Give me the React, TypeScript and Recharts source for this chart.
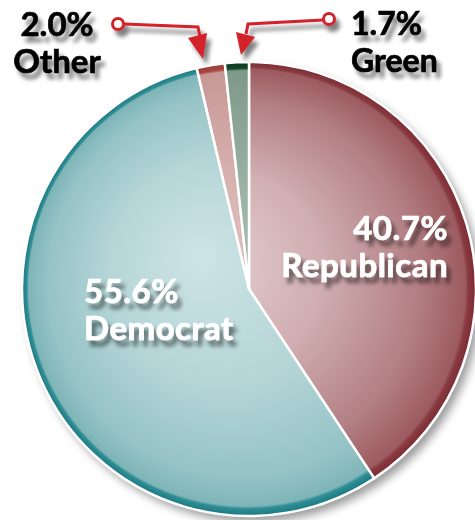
import React from 'react';
import { PieChart, Pie, Cell, Customized } from 'recharts';

// ---- data ----
const parties = ['Republican', 'Democrat', 'Other', 'Green'];
const shares = [40.7, 55.6, 2.0, 1.7];
const shadowData = [{ name: 'shadow', value: 1 }];

const data = parties.map((name, i) => ({ name, value: shares[i] }));

// ---- styling ----
const CX = 249;
const CY = 289;
const R = 227;
const FONT = 'Lato, "Open Sans", "DejaVu Sans", sans-serif';

const gradients: { id: string; stops: [number, string][] }[] = [
  {
    id: 'gRep',
    stops: [
      [0, '#e6d2d4'],
      [0.45, '#d0aeb1'],
      [0.8, '#b27e82'],
      [0.962, '#9c5b60'],
      [0.972, '#8a3b41'],
      [1, '#7a2a31'],
    ],
  },
  {
    id: 'gDem',
    stops: [
      [0, '#cde4e5'],
      [0.5, '#b5d5d7'],
      [0.85, '#95c3c6'],
      [0.962, '#7fb5b8'],
      [0.972, '#2f8f95'],
      [1, '#1a7880'],
    ],
  },
  {
    id: 'gOth',
    stops: [
      [0, '#e2c3c2'],
      [0.955, '#c79896'],
      [0.968, '#a8463f'],
      [1, '#9a3a36'],
    ],
  },
  {
    id: 'gGrn',
    stops: [
      [0, '#acc0b4'],
      [0.955, '#7e9989'],
      [0.968, '#114628'],
      [1, '#0b3a20'],
    ],
  },
];

const Defs = () => (
  <defs>
    {gradients.map((g) => (
      <radialGradient
        key={g.id}
        id={g.id}
        gradientUnits="userSpaceOnUse"
        cx={CX}
        cy={CY}
        r={R}
        fx={195}
        fy={255}
      >
        {g.stops.map(([o, c], i) => (
          <stop key={i} offset={o} stopColor={c} />
        ))}
      </radialGradient>
    ))}
    <filter id="pieShadow" x="-20%" y="-20%" width="140%" height="140%">
      <feGaussianBlur stdDeviation="5" />
    </filter>
  </defs>
);

const RED = '#d3202c';

const Label = ({
  x,
  y1,
  y2,
  anchor,
  line1,
  line2,
  color,
  size,
  spacing = 0,
}: {
  x: number;
  y1: number;
  y2: number;
  anchor: 'start' | 'middle' | 'end';
  line1: string;
  line2: string;
  color: string;
  size: number;
  spacing?: number;
}) => (
  <text
    x={x}
    y={y1}
    textAnchor={anchor}
    fill={color}
    stroke={color}
    strokeWidth={0.7}
    fontFamily={FONT}
    fontWeight={700}
    fontSize={size}
    letterSpacing={spacing}
  >
    <tspan x={x} y={y1}>{line1}</tspan>
    <tspan x={x} y={y2}>{line2}</tspan>
  </text>
);

const Annotations = () => {
  const fmt = (v: number) => `${v.toFixed(1)}%`;
  return (
    <svg
      width={475}
      height={520}
      style={{ position: 'absolute', left: 0, top: 0, pointerEvents: 'none' }}
    >
      <defs>
        <filter id="tshadow" x="-20%" y="-40%" width="150%" height="200%">
          <feGaussianBlur in="SourceAlpha" stdDeviation="2.2" result="b" />
          <feOffset in="b" dx="4" dy="6" result="o" />
          <feComponentTransfer in="o" result="s">
            <feFuncA type="linear" slope="0.5" />
          </feComponentTransfer>
          <feMerge>
            <feMergeNode in="s" />
            <feMergeNode in="SourceGraphic" />
          </feMerge>
        </filter>
      </defs>
      <g filter="url(#tshadow)">
        <Label x={448} y1={240} y2={277} anchor="end" line1={fmt(shares[0])} line2={parties[0]} color="#ffffff" size={33} spacing={0.5} />
        <Label x={84} y1={303} y2={340} anchor="start" line1={fmt(shares[1])} line2={parties[1]} color="#ffffff" size={33} spacing={0.5} />
        <Label x={57} y1={36} y2={73} anchor="middle" line1={fmt(shares[2])} line2={parties[2]} color="#000000" size={33} />
        <Label x={351} y1={35} y2={72} anchor="start" line1={fmt(shares[3])} line2={parties[3]} color="#000000" size={32} />
      </g>
      <g filter="url(#tshadow)">
        {/* Other arrow */}
        <polyline points="124,24 198,27 200,37" fill="none" stroke={RED} strokeWidth={3} />
        <polygon points="188,38 207,33 203,59" fill={RED} />
        <circle cx={118} cy={24} r={5.5} fill="#fff" stroke={RED} strokeWidth={3} />
        {/* Green arrow */}
        <polyline points="323,20 248,24 246,34" fill="none" stroke={RED} strokeWidth={3} />
        <polygon points="236,32 255,37 241,55" fill={RED} />
        <circle cx={329} cy={19} r={5.5} fill="#fff" stroke={RED} strokeWidth={3} />
      </g>
    </svg>
  );
};

const fills = ['url(#gRep)', 'url(#gDem)', 'url(#gOth)', 'url(#gGrn)'];

export default function App() {
  return (
    <div style={{ position: 'absolute', left: 0, top: 0, width: 475, height: 520, background: '#fff' }}>
      <PieChart width={475} height={520} margin={{ top: 0, right: 0, bottom: 0, left: 0 }}>
        <Customized component={Defs} />
        <Pie
          data={shadowData}
          dataKey="value"
          cx={CX + 5}
          cy={CY + 6}
          outerRadius={R}
          startAngle={90}
          endAngle={-270}
          stroke="none"
          isAnimationActive={false}
        >
          <Cell fill="#000" fillOpacity={0.4} filter="url(#pieShadow)" />
        </Pie>
        <Pie
          data={data}
          dataKey="value"
          nameKey="name"
          cx={CX}
          cy={CY}
          outerRadius={R}
          startAngle={90}
          endAngle={-270}
          stroke="#ffffff"
          strokeWidth={2.5}
          isAnimationActive={false}
        >
          {data.map((d, i) => (
            <Cell key={d.name} fill={fills[i]} />
          ))}
        </Pie>
      </PieChart>
      <Annotations />
    </div>
  );
}
